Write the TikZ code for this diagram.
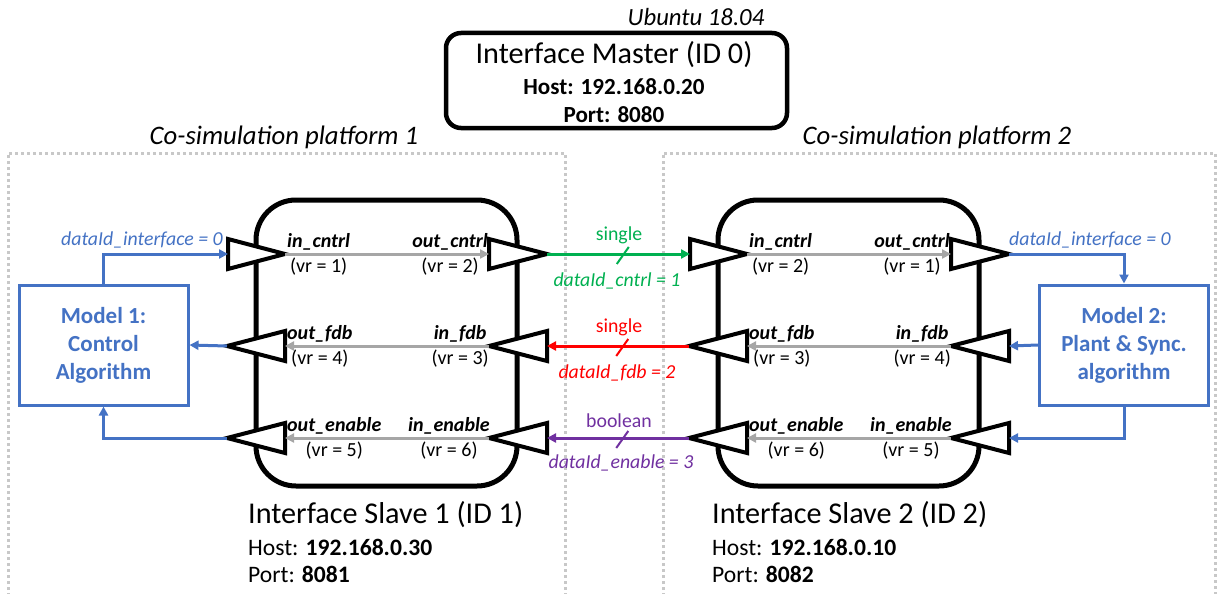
\documentclass[tikz,border=0pt]{standalone}
\usepackage{fontspec}
\setmainfont{Carlito}
\usetikzlibrary{arrows.meta}

\definecolor{cgreen}{HTML}{00B050}
\definecolor{cred}{HTML}{FF0000}
\definecolor{cpurple}{HTML}{7030A0}
\definecolor{cblue}{HTML}{4472C4}
\definecolor{cgray}{HTML}{A6A6A6}
\definecolor{cdot}{HTML}{C8C8C8}

\newcommand\fsz[2]{\fontsize{#1}{#2}\selectfont}

% port triangle: name, base x, tip x, y
\newcommand\porttri[4]{%
  \coordinate (#1-b) at (#2,#4);
  \coordinate (#1-t) at (#3,#4);
  \draw[porttri] (#2,#4-15) -- (#3,#4) -- (#2,#4+15) -- cycle;}

\tikzset{
  platform/.style={draw=cdot, line width=3pt, dash pattern=on 3pt off 3pt},
  slavebox/.style={draw, line width=5pt, rounded corners=40pt,
    minimum width=261pt, minimum height=286pt, inner sep=0pt},
  masterbox/.style={draw, line width=4.5pt, rounded corners=15pt,
    minimum width=341pt, minimum height=95pt, inner sep=0pt},
  modelbox/.style={draw=cblue, line width=3pt, fill=white, text=cblue,
    minimum width=169pt, minimum height=120pt, align=center,
    font=\fsz{23}{28}\bfseries},
  porttri/.style={draw, line width=4pt, fill=white, line join=miter},
  tip/.style={-{Triangle[length=9pt,width=9pt]}},
  inner/.style={draw=cgray, line width=3pt, tip},
  link/.style={line width=3pt, tip},
  slash/.style={line width=2pt},
  portlbl/.style={inner sep=0pt, align=center, font=\fsz{20}{25}},
  linklbl/.style={inner sep=0pt, font=\fsz{19.8}{24}},
  bigtitle/.style={inner sep=0pt, font=\fsz{30.2}{31}},
  infolbl/.style={inner sep=0pt, font=\fsz{23.6}{25}},
  platlbl/.style={inner sep=0pt, font=\fsz{26.7}{28}\itshape},
}

\begin{document}
\begin{tikzpicture}[x=1pt, y=-1pt]
\useasboundingbox (0,0) rectangle (1219,594);

% co-simulation platforms
\draw[platform] (8,596) -- (8,153) -- (565,153) -- (565,596);
\draw[platform] (663,596) -- (663,153) -- (1215,153) -- (1215,596);
\node[platlbl] (plat1) at (284,137) {Co-simulation platform 1};
\node[platlbl] (plat2) at (937,137) {Co-simulation platform 2};

% master
\node[inner sep=0pt, font=\fsz{24.7}{26}\itshape] (os) at (696,17) {Ubuntu 18.04};
\node[masterbox] (master) at (616.5,80.5) {};
\node[bigtitle] (mtitle) at (614,55) {Interface Master (ID 0)};
\node[infolbl, font=\fsz{23.1}{24}\bfseries] (mhost) at (614,87) {Host: 192.168.0.20};
\node[infolbl, font=\fsz{23.1}{24}\bfseries] (mport) at (614,115) {Port: 8080};

% slave boxes
\node[slavebox] (s1box) at (386.5,343) {};
\node[slavebox] (s2box) at (848.5,343) {};

% models
\node[modelbox] (m1) at (103.5,345) {Model 1:\\Control\\Algorithm};
\node[modelbox] (m2) at (1124,345) {Model 2:\\Plant \& Sync.\\algorithm};

% port triangles of slave 1
\porttri{s1inc}{228}{285}{254}
\porttri{s1outc}{489}{547}{254}
\porttri{s1outf}{285}{227}{346}
\porttri{s1inf}{547}{489}{346}
\porttri{s1oute}{285}{227}{438}
\porttri{s1ine}{547}{489}{438}
% port triangles of slave 2
\porttri{s2inc}{690}{747}{254}
\porttri{s2outc}{951}{1009}{254}
\porttri{s2outf}{747}{689}{346}
\porttri{s2inf}{1009}{951}{346}
\porttri{s2oute}{747}{689}{438}
\porttri{s2ine}{1009}{951}{438}

% internal routing
\draw[inner] (s1inc-t) -- (s1outc-b);
\draw[inner] (s1inf-t) -- (s1outf-b);
\draw[inner] (s1ine-t) -- (s1oute-b);
\draw[inner] (s2inc-t) -- (s2outc-b);
\draw[inner] (s2inf-t) -- (s2outf-b);
\draw[inner] (s2ine-t) -- (s2oute-b);

% links between slaves
\draw[link, cgreen] (s1outc-t) -- (s2inc-b) coordinate[pos=0.53] (gmid);
\draw[slash, cgreen] ([shift={(-6,10)}]gmid) -- ([shift={(6,-7)}]gmid);
\draw[link, cred] (s2outf-t) -- (s1inf-b) coordinate[pos=0.47] (rmid);
\draw[slash, cred] ([shift={(-6,10)}]rmid) -- ([shift={(6,-7)}]rmid);
\draw[link, cpurple] (s2oute-t) -- (s1ine-b) coordinate[pos=0.47] (pmid);
\draw[slash, cpurple] ([shift={(-6,10)}]pmid) -- ([shift={(6,-7)}]pmid);

\node[linklbl, text=cgreen] (gtype) at (619,235) {single};
\node[linklbl, text=cgreen, font=\fsz{19.8}{24}\itshape] (gid) at (617,281) {dataId\_cntrl = 1};
\node[linklbl, text=cred] (rtype) at (619,327) {single};
\node[linklbl, text=cred, font=\fsz{19.8}{24}\itshape] (rid) at (617,373) {dataId\_fdb = 2};
\node[linklbl, text=cpurple] (ptype) at (619,421) {boolean};
\node[linklbl, text=cpurple, font=\fsz{19.8}{24}\itshape] (pid) at (621,463) {dataId\_enable = 3};

% model connections
\draw[link, cblue] (m1.north) |- (s1inc-b);
\draw[link, cblue] (s1outf-t) -- (m1.east);
\draw[link, cblue] (s1oute-t) -| (m1.south);
\draw[link, cblue] (s2outc-t) -| (m2.north);
\draw[link, cblue] (m2.west) -- (s2inf-b);
\draw[link, cblue] (m2.south) |- (s2ine-b);
\node[linklbl, text=cblue, font=\fsz{19.8}{24}\itshape] (if1) at (142,240) {dataId\_interface = 0};
\node[linklbl, text=cblue, font=\fsz{19.8}{24}\itshape] (if2) at (1090,240) {dataId\_interface = 0};

% port labels of slave 1
\node[portlbl, anchor=west] (l1a) at (287,254) {\textbf{\textit{in\_cntrl}}\\(vr = 1)};
\node[portlbl, anchor=east] (l1b) at (488,254) {\textbf{\textit{out\_cntrl}}\\(vr = 2)};
\node[portlbl, anchor=west] (l1c) at (287,346) {\textbf{\textit{out\_fdb}}\\(vr = 4)};
\node[portlbl, anchor=east] (l1d) at (489,346) {\textbf{\textit{in\_fdb}}\\(vr = 3)};
\node[portlbl, anchor=west] (l1e) at (287,438) {\textbf{\textit{out\_enable}}\\(vr = 5)};
\node[portlbl, anchor=east] (l1f) at (490,438) {\textbf{\textit{in\_enable}}\\(vr = 6)};
% port labels of slave 2
\node[portlbl, anchor=west] (l2a) at (749,254) {\textbf{\textit{in\_cntrl}}\\(vr = 2)};
\node[portlbl, anchor=east] (l2b) at (950,254) {\textbf{\textit{out\_cntrl}}\\(vr = 1)};
\node[portlbl, anchor=west] (l2c) at (749,346) {\textbf{\textit{out\_fdb}}\\(vr = 3)};
\node[portlbl, anchor=east] (l2d) at (951,346) {\textbf{\textit{in\_fdb}}\\(vr = 4)};
\node[portlbl, anchor=west] (l2e) at (749,438) {\textbf{\textit{out\_enable}}\\(vr = 6)};
\node[portlbl, anchor=east] (l2f) at (952,438) {\textbf{\textit{in\_enable}}\\(vr = 5)};

% slave captions
\node[bigtitle, anchor=west] (s1title) at (248,515) {Interface Slave 1 (ID 1)};
\node[infolbl, anchor=west] (s1host) at (248,547) {Host: \textbf{192.168.0.30}};
\node[infolbl, anchor=west] (s1port) at (248,574) {Port: \textbf{8081}};
\node[bigtitle, anchor=west] (s2title) at (712,515) {Interface Slave 2 (ID 2)};
\node[infolbl, anchor=west] (s2host) at (712,547) {Host: \textbf{192.168.0.10}};
\node[infolbl, anchor=west] (s2port) at (712,574) {Port: \textbf{8082}};
\end{tikzpicture}
\end{document}
